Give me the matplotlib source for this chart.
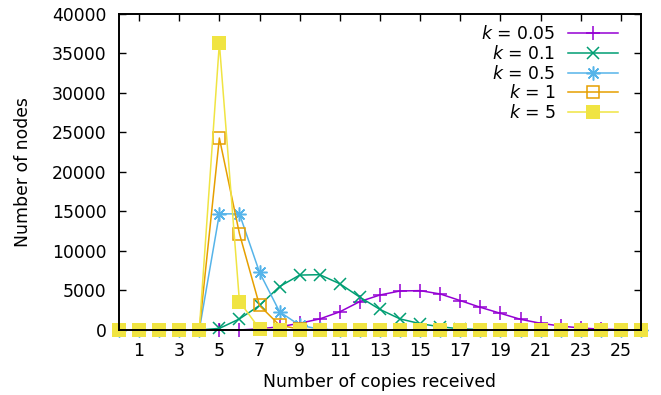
import numpy as np
from matplotlib import pyplot as plt

# copies received (x) and number of nodes per k value
copies = list(range(27))
nodes_k005 = [0, 0, 0, 0, 0, 0, 0, 150, 400, 850, 1400, 2300, 3600, 4430, 4940,
              4980, 4560, 3720, 2870, 2110, 1350, 850, 500, 250, 100, 50, 0]
nodes_k01 = [0, 0, 0, 0, 0, 200, 1400, 3100, 5500, 6950, 7000, 5850, 4150, 2600,
             1400, 800, 400, 150, 50, 0, 0, 0, 0, 0, 0, 0, 0]
nodes_k05 = [0, 0, 0, 0, 0, 14700, 14700, 7300, 2300, 600, 100, 0, 0, 0, 0, 0,
             0, 0, 0, 0, 0, 0, 0, 0, 0, 0, 0]
nodes_k1 = [0, 0, 0, 0, 0, 24300, 12200, 3100, 600, 100, 0, 0, 0, 0, 0, 0, 0,
            0, 0, 0, 0, 0, 0, 0, 0, 0, 0]
nodes_k5 = [0, 0, 0, 0, 0, 36300, 3600, 150, 0, 0, 0, 0, 0, 0, 0, 0, 0, 0, 0,
            0, 0, 0, 0, 0, 0, 0, 0]

labels = ["$k$ = 0.05", "$k$ = 0.1", "$k$ = 0.5", "$k$ = 1", "$k$ = 5"]
xticks = list(range(1, 26, 2))
yticks = list(range(0, 40001, 5000))

plt.rcParams['font.family'] = 'DejaVu Sans'
plt.rcParams['mathtext.fontset'] = 'dejavusans'
fs = 12.4

fig, ax = plt.subplots(figsize=(6.61, 3.95), dpi=100)
fig.subplots_adjust(left=0.18, right=0.9697, top=0.9646, bottom=0.1646)

lw = 1.1
ax.plot(copies, nodes_k005, color='#9400d3', marker='+', ms=10, mew=lw, lw=lw,
        label=labels[0], clip_on=False)
ax.plot(copies, nodes_k01, color='#009e73', marker='x', ms=8, mew=lw, lw=lw,
        label=labels[1], clip_on=False)
ax.plot(copies, nodes_k05, color='#56b4e9', marker=(8, 2, 0), ms=10, mew=lw, lw=lw,
        label=labels[2], clip_on=False)
ax.plot(copies, nodes_k1, color='#e69f00', marker='s', ms=8.5, mew=lw, lw=lw,
        mfc='none', label=labels[3], clip_on=False)
ax.plot(copies, nodes_k5, color='#f0e442', marker='s', ms=9.5, mew=0, lw=lw,
        label=labels[4], clip_on=False)

ax.set_xlim(0, 26)
ax.set_ylim(0, 40000)
ax.set_xticks(xticks)
ax.set_yticks(yticks)
ax.tick_params(direction='in', length=5, width=1, top=True, right=True,
               labelsize=fs, pad=9)
for sp in ax.spines.values():
    sp.set_linewidth(1.4)

ax.set_xlabel("Number of copies received", fontsize=fs, labelpad=9)
ax.set_ylabel("Number of nodes", fontsize=fs, labelpad=14)

ax.legend(loc='upper right', markerfirst=False, frameon=False, fontsize=fs,
          handlelength=2.9, handletextpad=0.7, labelspacing=0.1,
          borderaxespad=0.9, bbox_to_anchor=(0.998, 1.035))

plt.savefig("out.png", dpi=100)
